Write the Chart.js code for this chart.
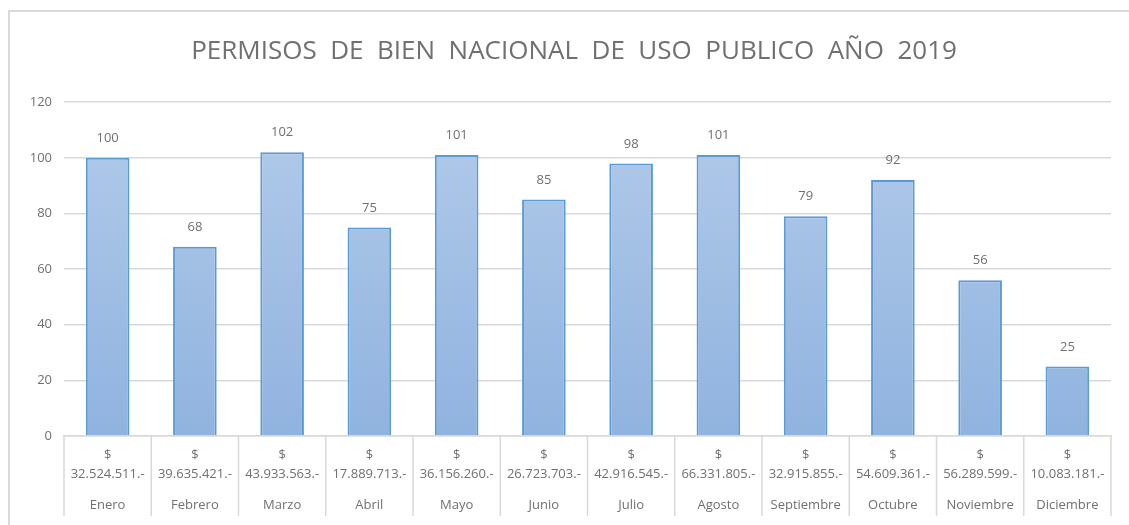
<!DOCTYPE html>
<html>
<head>
<meta charset="utf-8">
<script src="https://cdn.jsdelivr.net/npm/chart.js@4.4.1/dist/chart.umd.min.js"></script>
<style>
  html, body { margin: 0; padding: 0; background: #fff; overflow: hidden; }
  #frame {
    position: absolute; left: 8px; top: 10px; width: 1140px; height: 530px;
    border-left: 2px solid #d9d9d9; border-top: 2px solid #d9d9d9;
  }
  #myChart { position: absolute; left: 0; top: 0; }
</style>
</head>
<body>
<div id="frame"></div>
<canvas id="myChart" width="1129" height="525"></canvas>
<script>
// data
const months = ['Enero', 'Febrero', 'Marzo', 'Abril', 'Mayo', 'Junio',
                'Julio', 'Agosto', 'Septiembre', 'Octubre', 'Noviembre', 'Diciembre'];
const amounts = ['32.524.511.-', '39.635.421.-', '43.933.563.-', '17.889.713.-',
                 '36.156.260.-', '26.723.703.-', '42.916.545.-', '66.331.805.-',
                 '32.915.855.-', '54.609.361.-', '56.289.599.-', '10.083.181.-'];
const permisos = [100, 68, 102, 75, 101, 85, 98, 101, 79, 92, 56, 25];
const yTicks = [0, 20, 40, 60, 80, 100, 120];

const textColor = '#707070';
const gridColor = '#d9d9d9';
const fontFamily = '"Open Sans", "Noto Sans", sans-serif';

function barFill(context) {
    const chart = context.chart;
    const area = chart.chartArea;
    if (!area) return '#9dbde4';
    const g = chart.ctx.createLinearGradient(0, area.top, 0, area.bottom);
    g.addColorStop(0, '#b3cbea');
    g.addColorStop(1, '#90b3df');
    return g;
}

// value above each bar
const valueLabels = {
    id: 'valueLabels',
    afterDatasetsDraw(chart) {
        const ctx = chart.ctx;
        const meta = chart.getDatasetMeta(0);
        ctx.save();
        ctx.fillStyle = textColor;
        ctx.font = '13px ' + fontFamily;
        ctx.textAlign = 'center';
        ctx.textBaseline = 'bottom';
        meta.data.forEach(function (bar, i) {
            ctx.fillText(String(permisos[i]), bar.x, bar.y - 13);
        });
        ctx.restore();
    }
};

// vertical separators between categories in the label area
const categoryDividers = {
    id: 'categoryDividers',
    afterDraw(chart) {
        const xs = chart.scales.x;
        const ctx = chart.ctx;
        const area = chart.chartArea;
        const step = xs.getPixelForValue(1) - xs.getPixelForValue(0);
        ctx.save();
        ctx.strokeStyle = gridColor;
        ctx.lineWidth = 1.5;
        ctx.beginPath();
        for (let i = 0; i <= months.length; i++) {
            const px = xs.getPixelForValue(i) - step / 2;
            ctx.moveTo(px, area.bottom);
            ctx.lineTo(px, area.bottom + 80);
        }
        ctx.stroke();
        ctx.restore();
    }
};

// the Excel title is centred on a slightly wider frame
const titleShift = {
    id: 'titleShift',
    afterLayout(chart) {
        if (chart.titleBlock) {
            chart.titleBlock.left += 37;
            chart.titleBlock.width -= 37;
        }
    }
};

const data = {
    labels: amounts.map(a => ['$', a]),
    datasets: [{
        label: 'Permisos',
        data: permisos,
        backgroundColor: barFill,
        borderColor: '#5b9bd5',
        borderWidth: 2,
        barPercentage: 0.5,
        categoryPercentage: 1.0,
        xAxisID: 'x',
        yAxisID: 'y'
    }]
};

const config = {
    type: 'bar',
    data,
    plugins: [valueLabels, categoryDividers, titleShift],
    options: {
        responsive: false,
        animation: false,
        layout: { padding: { left: 0, right: 18, top: 0, bottom: 10 } },
        plugins: {
            legend: { display: false },
            tooltip: { enabled: false },
            title: {
                display: true,
                text: 'PERMISOS  DE  BIEN  NACIONAL  DE  USO  PUBLICO  AÑO  2019',
                color: textColor,
                font: { family: fontFamily, size: 26, weight: 'normal' },
                padding: { top: 36, bottom: 35 }
            }
        },
        scales: {
            y: {
                min: 0, max: 120,
                afterBuildTicks(scale) { scale.ticks = yTicks.map(v => ({ value: v })); },
                afterFit(scale) { scale.width = 64; },
                grid: { color: gridColor, lineWidth: 1.5, drawTicks: false },
                border: { display: false },
                ticks: { color: textColor, font: { family: fontFamily, size: 13 }, padding: 12 }
            },
            x: {
                position: 'bottom',
                offset: true,
                afterFit(scale) { scale.height = 48; },
                grid: { display: false, drawTicks: false },
                border: { display: true, color: gridColor, width: 1.5 },
                ticks: {
                    color: textColor, autoSkip: false, maxRotation: 0, minRotation: 0,
                    font: { family: fontFamily, size: 13, lineHeight: 1.45 },
                    padding: 10
                }
            },
            x2: {
                type: 'category',
                position: 'bottom',
                labels: months,
                offset: true,
                afterFit(scale) { scale.height = 31; },
                grid: { display: false, drawTicks: false },
                border: { display: false },
                ticks: {
                    color: textColor, autoSkip: false, maxRotation: 0, minRotation: 0,
                    font: { family: fontFamily, size: 13, lineHeight: 1.45 },
                    padding: 12
                }
            }
        }
    }
};

var myChart = new Chart(document.getElementById('myChart'), config);
</script>
</body>
</html>
